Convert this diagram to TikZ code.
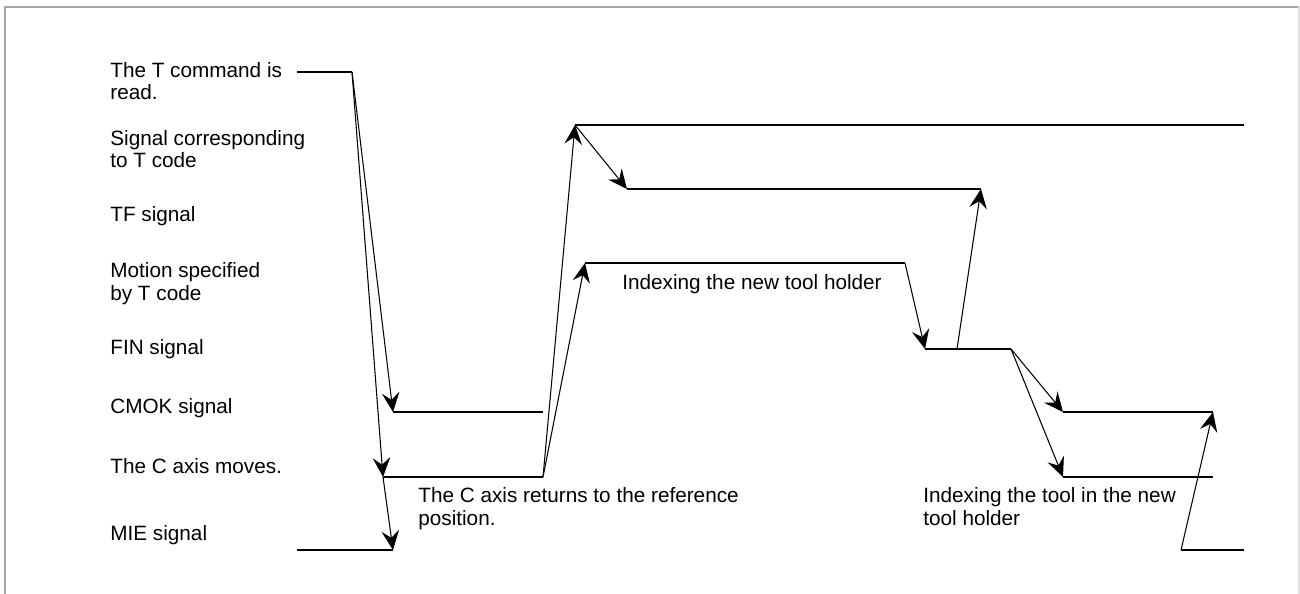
\documentclass[tikz,border=0pt]{standalone}
\usepackage{fontspec}
\setmainfont{Liberation Sans}
\usetikzlibrary{arrows.meta}

\begin{document}
\begin{tikzpicture}[x=0.02cm, y=-0.02cm, >={Stealth[length=11pt, width=10pt, inset=4pt]},
	every node/.style={inner sep=0pt, anchor=base west, align=left, font=\fontsize{11.8}{13}\selectfont},
	signal/.style={line width=1.7pt},
	link/.style={line width=0.6pt}]
	\useasboundingbox (0,0) rectangle (1300,594);
	%Frame
	\draw[gray!70, line width=1.1pt] (5,594) -- (5,7) -- (1299,7);
	\draw[gray!25, line width=1pt] (1299,7) -- (1299,594);
	%Labels (base = last line)
	\node (lblcmd) at (110,100) {The T command is\\read.};
	\node (lblsig) at (110,168) {Signal corresponding\\to T code};
	\node (lbltf) at (110,222) {TF signal};
	\node (lblmot) at (110,300) {Motion specified\\by T code};
	\node (lblfin) at (110,354) {FIN signal};
	\node (lblcmok) at (110,413) {CMOK signal};
	\node (lblcax) at (110,473) {The C axis moves.};
	\node (lblmie) at (110,540) {MIE signal};
	%Notes
	\node (notehold) at (622,290) {Indexing the new tool holder};
	\node (noteret) at (418,525) {The C axis returns to the reference\\position.};
	\node (notetool) at (923,525) {Indexing the tool in the new\\tool holder};
	%Signal corners
	\coordinate (cmdA) at (297,72);
	\coordinate (cmdB) at (352,72);
	\coordinate (sigA) at (575,125);
	\coordinate (sigB) at (1244,125);
	\coordinate (tfA) at (627,189);
	\coordinate (tfB) at (981,189);
	\coordinate (motA) at (585,263);
	\coordinate (motB) at (905,263);
	\coordinate (finA) at (925,349);
	\coordinate (finX) at (957,349);
	\coordinate (finB) at (1011,349);
	\coordinate (cmokA) at (393,412);
	\coordinate (cmokB) at (543,412);
	\coordinate (cmokC) at (1063,412);
	\coordinate (cmokD) at (1213,412);
	\coordinate (caxA) at (383,477);
	\coordinate (caxB) at (543,477);
	\coordinate (caxC) at (1063,477);
	\coordinate (caxD) at (1213,477);
	\coordinate (mieA) at (297,550);
	\coordinate (mieB) at (393,550);
	\coordinate (mieC) at (1181,550);
	\coordinate (mieD) at (1244,550);
	%Signal lines
	\draw[signal] (cmdA) -- (cmdB);
	\draw[signal] (sigA) -- (sigB);
	\draw[signal] (tfA) -- (tfB);
	\draw[signal] (motA) -- (motB);
	\draw[signal] (finA) -- (finB);
	\draw[signal] (cmokA) -- (cmokB);
	\draw[signal] (cmokC) -- (cmokD);
	\draw[signal] (caxA) -- (caxB);
	\draw[signal] (caxC) -- (caxD);
	\draw[signal] (mieA) -- (mieB);
	\draw[signal] (mieC) -- (mieD);
	%T command read
	\draw[link,->] (cmdB) -- (cmokA);
	\draw[link,->] (cmdB) -- (caxA);
	\draw[link,->] (caxA) -- (mieB);
	%C axis back at reference
	\draw[link,->] (caxB) -- (sigA);
	\draw[link,->] (caxB) -- (motA);
	\draw[link,->] (sigA) -- (tfA);
	%Tool holder indexed
	\draw[link,->] (motB) -- (finA);
	\draw[link,->] (finX) -- (tfB);
	\draw[link,->] (finB) -- (cmokC);
	\draw[link,->] (finB) -- (caxC);
	\draw[link,->] (mieC) -- (cmokD);
\end{tikzpicture}
\end{document}
